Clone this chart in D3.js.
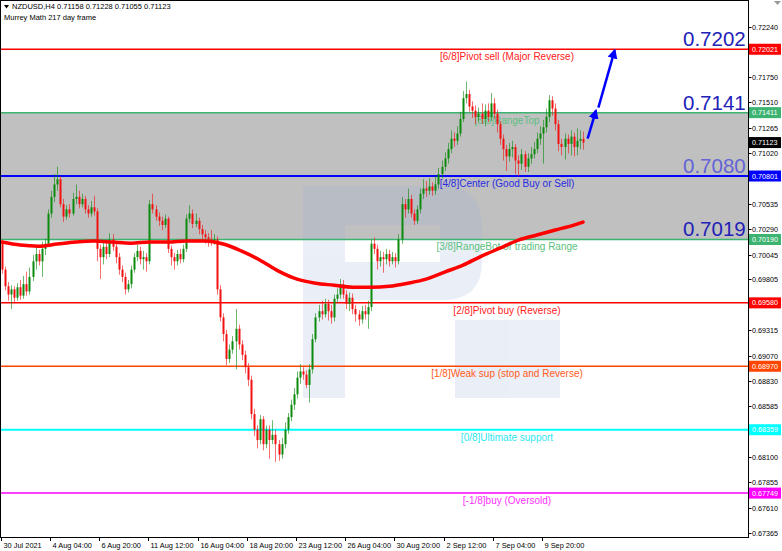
<!DOCTYPE html>
<html><head><meta charset="utf-8">
<script src="https://cdn.jsdelivr.net/npm/d3@7"></script>
<style>body{margin:0;background:#fff;} svg{display:block;} text{font-family:"Liberation Sans",Arial,sans-serif;}</style>
</head><body><svg id="c" width="782" height="551"></svg>
<script>
// ---------- DATA ----------
const header1 = "NZDUSD,H4  0.71158 0.71228 0.71055 0.71123";
const header2 = "Murrey Math 217 day frame";

const opens = [
0.7016,0.6990,0.6974,0.6966,0.6971,0.6963,0.6973,0.6965,0.6976,0.6969,
0.6983,0.6998,0.7005,0.6998,0.7010,0.7015,0.7044,0.7060,0.7072,0.7077,
0.7053,0.7041,0.7048,0.7044,0.7058,0.7060,0.7053,0.7058,0.7048,0.7044,
0.7050,0.7046,0.7010,0.7002,0.7012,0.7005,0.7019,0.7012,0.7002,0.6990,
0.6983,0.6971,0.6976,0.6990,0.7002,0.7008,0.7000,0.7002,0.6998,0.7053,
0.7048,0.7041,0.7037,0.7033,0.7039,0.7010,0.7002,0.6998,0.7005,0.7000,
0.7010,0.7039,0.7044,0.7034,0.7037,0.7029,0.7024,0.7021,0.7019,0.7017,
0.7019,0.6971,0.6944,0.6928,0.6904,0.6913,0.6921,0.6933,0.6918,0.6908,
0.6896,0.6884,0.6851,0.6836,0.6826,0.6846,0.6822,0.6836,0.6826,0.6831,
0.6822,0.6812,0.6822,0.6836,0.6848,0.6860,0.6870,0.6886,0.6892,0.6889,
0.6879,0.6894,0.6923,0.6944,0.6950,0.6947,0.6957,0.6950,0.6944,0.6962,
0.6966,0.6976,0.6966,0.6957,0.6963,0.6952,0.6947,0.6942,0.6950,0.6947,
0.6954,0.7015,0.7010,0.6998,0.7002,0.7000,0.7005,0.6998,0.7002,0.6998,
0.7019,0.7053,0.7048,0.7058,0.7044,0.7037,0.7048,0.7063,0.7068,0.7066,
0.7070,0.7066,0.7072,0.7082,0.7089,0.7097,0.7106,0.7116,0.7114,0.7121,
0.7135,0.7155,0.7159,0.7147,0.7143,0.7137,0.7140,0.7135,0.7143,0.7137,
0.7150,0.7140,0.7130,0.7116,0.7106,0.7099,0.7106,0.7108,0.7095,0.7092,
0.7101,0.7089,0.7097,0.7101,0.7106,0.7116,0.7121,0.7127,0.7137,0.7153,
0.7145,0.7130,0.7111,0.7108,0.7116,0.7111,0.7118,0.7108,0.7114,0.71158];

const closes = [
0.6990,0.6974,0.6966,0.6971,0.6963,0.6973,0.6965,0.6976,0.6969,0.6983,
0.6998,0.7005,0.6998,0.7010,0.7015,0.7044,0.7060,0.7072,0.7077,0.7053,
0.7041,0.7048,0.7044,0.7058,0.7060,0.7053,0.7058,0.7048,0.7044,0.7050,
0.7046,0.7010,0.7002,0.7012,0.7005,0.7019,0.7012,0.7002,0.6990,0.6983,
0.6971,0.6976,0.6990,0.7002,0.7008,0.7000,0.7002,0.6998,0.7053,0.7048,
0.7041,0.7037,0.7033,0.7039,0.7010,0.7002,0.6998,0.7005,0.7000,0.7010,
0.7039,0.7044,0.7034,0.7037,0.7029,0.7024,0.7021,0.7019,0.7017,0.7019,
0.6971,0.6944,0.6928,0.6904,0.6913,0.6921,0.6933,0.6918,0.6908,0.6896,
0.6884,0.6851,0.6836,0.6826,0.6846,0.6822,0.6836,0.6826,0.6831,0.6822,
0.6812,0.6822,0.6836,0.6848,0.6860,0.6870,0.6886,0.6892,0.6889,0.6879,
0.6894,0.6923,0.6944,0.6950,0.6947,0.6957,0.6950,0.6944,0.6962,0.6966,
0.6976,0.6966,0.6957,0.6963,0.6952,0.6947,0.6942,0.6950,0.6947,0.6954,
0.7015,0.7010,0.6998,0.7002,0.7000,0.7005,0.6998,0.7002,0.6998,0.7019,
0.7053,0.7048,0.7058,0.7044,0.7037,0.7048,0.7063,0.7068,0.7066,0.7070,
0.7066,0.7072,0.7082,0.7089,0.7097,0.7106,0.7116,0.7114,0.7121,0.7135,
0.7155,0.7159,0.7147,0.7143,0.7137,0.7140,0.7135,0.7143,0.7137,0.7150,
0.7140,0.7130,0.7116,0.7106,0.7099,0.7106,0.7108,0.7095,0.7092,0.7101,
0.7089,0.7097,0.7101,0.7106,0.7116,0.7121,0.7127,0.7137,0.7153,0.7145,
0.7130,0.7111,0.7108,0.7116,0.7111,0.7118,0.7108,0.7114,0.71158,0.71123];

const highs = [
0.7019,0.6993,0.6978,0.6975,0.6974,0.6977,0.6980,0.6984,0.6988,0.6992,
0.7004,0.7012,0.7009,0.7017,0.7020,0.7048,0.7066,0.7082,0.7089,0.7080,
0.7058,0.7052,0.7053,0.7064,0.7072,0.7066,0.7063,0.7061,0.7052,0.7056,
0.7061,0.7049,0.7014,0.7016,0.7019,0.7025,0.7024,0.7016,0.7006,0.6994,
0.6987,0.6980,0.6994,0.7006,0.7014,0.7012,0.7008,0.7006,0.7057,0.7063,
0.7052,0.7045,0.7041,0.7043,0.7041,0.7013,0.7006,0.7009,0.7010,0.7014,
0.7043,0.7052,0.7048,0.7044,0.7040,0.7033,0.7028,0.7025,0.7028,0.7024,
0.7022,0.6975,0.6948,0.6932,0.6918,0.6926,0.6952,0.6937,0.6922,0.6912,
0.6900,0.6888,0.6856,0.6840,0.6850,0.6849,0.6840,0.6840,0.6845,0.6836,
0.6826,0.6828,0.6843,0.6852,0.6865,0.6876,0.6892,0.6899,0.6896,0.6893,
0.6899,0.6928,0.6948,0.6956,0.6960,0.6962,0.6961,0.6956,0.6966,0.6972,
0.6981,0.6980,0.6970,0.6968,0.6967,0.6956,0.6951,0.6955,0.6956,0.6960,
0.7019,0.7021,0.7014,0.7008,0.7007,0.7010,0.7009,0.7007,0.7006,0.7024,
0.7060,0.7058,0.7068,0.7062,0.7048,0.7052,0.7068,0.7077,0.7075,0.7078,
0.7074,0.7080,0.7088,0.7095,0.7103,0.7112,0.7124,0.7122,0.7128,0.7142,
0.7162,0.7171,0.7163,0.7152,0.7148,0.7146,0.7150,0.7149,0.7150,0.7160,
0.7155,0.7144,0.7133,0.7120,0.7110,0.7112,0.7114,0.7111,0.7100,0.7106,
0.7104,0.7102,0.7108,0.7113,0.7122,0.7128,0.7134,0.7145,0.7158,0.7157,
0.7150,0.7134,0.7116,0.7121,0.7120,0.7124,0.7122,0.7126,0.7124,0.71228];

const lows = [
0.6986,0.6970,0.6960,0.6952,0.6958,0.6960,0.6961,0.6962,0.6965,0.6966,
0.6979,0.6990,0.6994,0.6983,0.7004,0.7012,0.7040,0.7055,0.7066,0.7050,
0.7036,0.7038,0.7040,0.7042,0.7053,0.7049,0.7050,0.7044,0.7040,0.7041,
0.7042,0.6998,0.6981,0.6995,0.7000,0.7002,0.7008,0.6996,0.6985,0.6978,
0.6966,0.6968,0.6972,0.6987,0.6998,0.6995,0.6990,0.6988,0.6995,0.7044,
0.7037,0.7032,0.7028,0.7030,0.7006,0.6994,0.6990,0.6994,0.6996,0.6997,
0.7007,0.7035,0.7030,0.7031,0.7024,0.7019,0.7015,0.7012,0.7013,0.7014,
0.6966,0.6940,0.6921,0.6898,0.6900,0.6909,0.6894,0.6913,0.6903,0.6890,
0.6878,0.6846,0.6830,0.6818,0.6822,0.6816,0.6818,0.6808,0.6822,0.6805,
0.6806,0.6808,0.6818,0.6832,0.6844,0.6855,0.6866,0.6880,0.6884,0.6876,
0.6862,0.6890,0.6920,0.6940,0.6942,0.6944,0.6941,0.6938,0.6940,0.6958,
0.6962,0.6962,0.6952,0.6950,0.6947,0.6940,0.6936,0.6938,0.6942,0.6933,
0.6950,0.7005,0.6990,0.6993,0.6987,0.6995,0.6993,0.6995,0.6992,0.6995,
0.7015,0.7040,0.7044,0.7040,0.7033,0.7034,0.7044,0.7058,0.7060,0.7062,
0.7061,0.7062,0.7068,0.7078,0.7085,0.7092,0.7102,0.7108,0.7110,0.7118,
0.7132,0.7150,0.7142,0.7136,0.7130,0.7132,0.7130,0.7128,0.7132,0.7133,
0.7135,0.7122,0.7110,0.7095,0.7085,0.7094,0.7098,0.7082,0.7080,0.7086,
0.7084,0.7084,0.7092,0.7097,0.7102,0.7110,0.7092,0.7122,0.7132,0.7138,
0.7124,0.7104,0.7100,0.7096,0.7102,0.7100,0.7099,0.7100,0.7106,0.71055];

// 217-period moving average, sampled bars
const maIndex = [0,6,12,18,24,30,36,42,48,54,60,66,72,78,84,90,96,102,108,114,120,126,132,138,144,150,156,162,168,174,180,186,189];
const maValues = [0.70165,0.70136,0.70126,0.70146,0.70165,0.70175,0.70165,0.70155,0.70165,0.70165,0.70175,0.70175,0.70146,0.70078,0.69991,0.69885,0.69808,0.69769,0.69750,0.69731,0.69731,0.69740,0.69769,0.69808,0.69876,0.69943,0.70030,0.70107,0.70184,0.70233,0.70281,0.70329,0.70358];

// Murrey levels
const levelNames = ["[6/8]Pivot sell (Major Reverse)","[5/8]RangeTop","[4/8]Center (Good Buy or Sell)","[3/8]RangeBot or trading Range","[2/8]Pivot buy (Reverse)","[1/8]Weak sup (stop and Reverse)","[0/8]Ultimate support","[-1/8]buy (Oversold)"];
const levelValues = [0.72021,0.71411,0.70801,0.70190,0.69580,0.68970,0.68359,0.67749];
const levelColors = ["#ff0000","#3cb371","#0000ff","#3cb371","#ff0000","#ff4500","#00ffff","#ff00ff"];
const levelTextColors = ["#ff2020","#5cbf7f","#2a2ae0","#5cbf7f","#ff2020","#ff5a20","#30e8f0","#ff30ff"];
const levelWidths = [1.5,1.5,2,1.5,1.5,1.5,2,1.5];

// big target labels
const bigLabels = ["0.7202","0.7141","0.7080","0.7019"];
const bigValues = [0.72021,0.71411,0.70801,0.70190];
const bigColors = ["#2222b8","#2222b8","#6464d6","#2222b8"];

// axis ticks
const priceTicks = [0.72240,0.71995,0.71750,0.71510,0.71265,0.71020,0.70775,0.70535,0.70290,0.70045,0.69805,0.69560,0.69315,0.69070,0.68830,0.68585,0.68340,0.68100,0.67855,0.67610,0.67365];
const timeLabels = ["30 Jul 2021","4 Aug 04:00","6 Aug 20:00","11 Aug 12:00","16 Aug 04:00","18 Aug 20:00","23 Aug 12:00","26 Aug 04:00","30 Aug 20:00","2 Sep 12:00","7 Sep 04:00","9 Sep 20:00"];
const timeIndex = [0,16,32,48,64,80,96,112,128,144,160,176];
const currentPrice = 0.71123;

// forecast arrows (bar index, price)
const arrowFrom = [[190.5,0.7116],[194.0,0.7146]];
const arrowTo   = [[193.2,0.7143],[199.3,0.7201]];

// ---------- DRAW ----------
const plotR = 748, plotB = 537;
const svg = d3.select("#c");
svg.append("rect").attr("width",782).attr("height",551).attr("fill","#fff");

const x = d3.scaleLinear().domain([0,189]).range([1.8,583]);
const y = d3.scaleLinear().domain([0.67365,0.72240]).range([533,26.5]);

const defs = svg.append("defs");
defs.append("clipPath").attr("id","clip").append("rect").attr("x",1).attr("y",1).attr("width",plotR-1).attr("height",plotB-1);
defs.append("marker").attr("id","ah").attr("viewBox","0 0 10 10").attr("refX",8).attr("refY",5)
  .attr("markerWidth",4).attr("markerHeight",4).attr("orient","auto").attr("markerUnits","strokeWidth")
  .append("path").attr("d","M0,0 L10,5 L0,10 z").attr("fill","#0000ff");

const g = svg.append("g").attr("clip-path","url(#clip)");

// gray range band
g.append("rect").attr("x",0).attr("width",plotR)
  .attr("y",y(levelValues[1])).attr("height",y(levelValues[3])-y(levelValues[1])).attr("fill","#c0c0c0");

// watermark (decorative logo)
const wm = g.append("g").attr("fill","#9aaed6").attr("opacity",0.2);
wm.append("path").attr("fill-rule","evenodd").attr("d",
  "M303,186 L442,186 Q482,186 482,226 L482,262 Q482,300 442,300 L345,300 L345,398 L303,398 Z " +
  "M345,225 L440,225 L440,262 L345,262 Z");
wm.append("rect").attr("x",455).attr("y",320).attr("width",105).attr("height",78);

// level lines
levelValues.forEach((v,i)=>{
  g.append("line").attr("x1",0).attr("x2",plotR).attr("y1",y(v)).attr("y2",y(v))
    .attr("stroke",levelColors[i]).attr("stroke-width",levelWidths[i]);
});
// level labels
levelValues.forEach((v,i)=>{
  g.append("text").attr("x",507).attr("y",y(v)+11).attr("text-anchor","middle")
    .attr("font-size","10px").attr("fill",levelTextColors[i]).text(levelNames[i]);
});

// candles
const idx = d3.range(closes.length);
const cg = g.append("g");
idx.forEach(i=>{
  const up = closes[i] >= opens[i];
  const col = up ? "#0b8a0b" : "#f21010";
  const cx = Math.round(x(i));
  cg.append("line").attr("x1",cx+0.5).attr("x2",cx+0.5).attr("y1",y(highs[i])).attr("y2",y(lows[i]))
    .attr("stroke",col).attr("stroke-width",1).attr("opacity",0.6);
  const yt = y(Math.max(opens[i],closes[i])), yb = y(Math.min(opens[i],closes[i]));
  cg.append("rect").attr("x",cx-0.5).attr("width",2).attr("y",yt).attr("height",Math.max(1,yb-yt)).attr("fill",col);
});

// moving average
const maLine = d3.line().x((d,i)=>x(maIndex[i])).y(d=>y(d)).curve(d3.curveMonotoneX);
g.append("path").attr("d",maLine(maValues)).attr("fill","none").attr("stroke","#ff0000").attr("stroke-width",3.5).attr("stroke-linecap","round");

// arrows
arrowFrom.forEach((f,i)=>{
  g.append("line").attr("x1",x(f[0])).attr("y1",y(f[1])).attr("x2",x(arrowTo[i][0])).attr("y2",y(arrowTo[i][1]))
    .attr("stroke","#0000ff").attr("stroke-width",2.5).attr("marker-end","url(#ah)");
});

// big labels
bigLabels.forEach((t,i)=>{
  g.append("text").attr("x",683).attr("y",y(bigValues[i])-3).attr("font-size","20.5px")
    .attr("fill",bigColors[i]).text(t);
});

// header
svg.append("path").attr("d","M4,5 L9,5 L6.5,8.5 Z").attr("fill","#000");
svg.append("text").attr("x",12).attr("y",9).attr("font-size","7.5px").attr("fill","#000").text(header1);
svg.append("text").attr("x",4).attr("y",19.5).attr("font-size","7.5px").attr("fill","#000").text(header2);

// frame
svg.append("rect").attr("x",0.5).attr("y",0.5).attr("width",plotR).attr("height",plotB).attr("fill","none").attr("stroke","#000").attr("stroke-width",1);

// right axis
const ra = svg.append("g");
const boxVals = levelValues.concat([currentPrice]);
const boxCols = levelColors.concat(["#000000"]);
priceTicks.forEach(v=>{
  const yy = Math.round(y(v))+0.5;
  ra.append("line").attr("x1",plotR+0.5).attr("x2",plotR+3.5).attr("y1",yy).attr("y2",yy).attr("stroke","#000");
  const hidden = boxVals.some(b => Math.abs(y(b) - y(v)) < 9);
  if (!hidden) ra.append("text").attr("x",752).attr("y",yy).attr("dy","0.35em").attr("font-size","7.2px").attr("fill","#000").text(v.toFixed(5));
});
boxVals.forEach((v,i)=>{
  const yy = y(v);
  ra.append("rect").attr("x",749).attr("y",yy-5.5).attr("width",32).attr("height",11).attr("fill",boxCols[i]);
  ra.append("text").attr("x",752).attr("y",yy).attr("dy","0.35em").attr("font-size","7.2px").attr("fill","#fff").text(v.toFixed(5));
});
// small shift marker top-right
svg.append("path").attr("d","M774,1 L781,1 L777.5,5 Z").attr("fill","#999");

// bottom axis
const ba = svg.append("g");
timeIndex.forEach((ti,k)=>{
  const xx = Math.round(x(ti)-1)+0.5;
  ba.append("line").attr("x1",xx).attr("x2",xx).attr("y1",plotB).attr("y2",plotB+4).attr("stroke","#000");
  ba.append("text").attr("x",xx+2).attr("y",547.5).attr("font-size","7.4px").attr("fill","#000").text(timeLabels[k]);
});
</script></body></html>
